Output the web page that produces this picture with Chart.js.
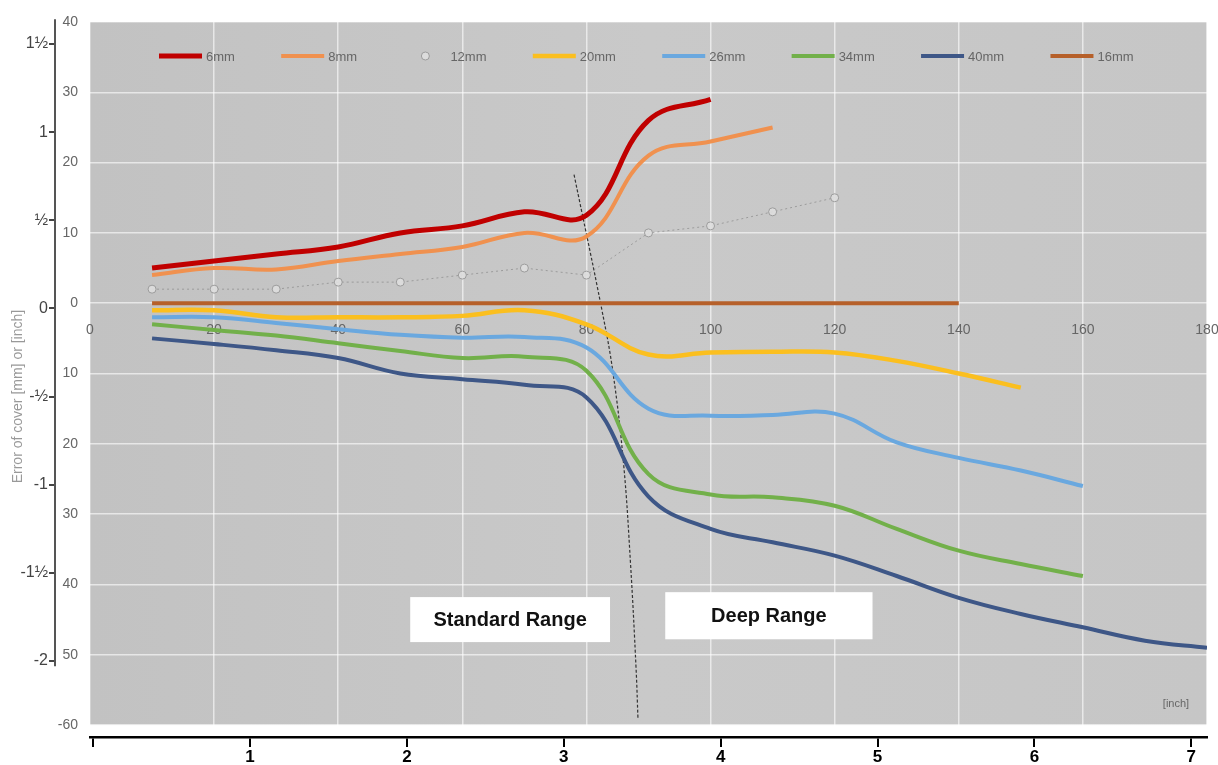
<!DOCTYPE html>
<html>
<head>
<meta charset="utf-8">
<script src="https://cdn.jsdelivr.net/npm/chart.js@4"></script>
<style>
html,body{margin:0;padding:0;background:#fff;}
#wrap{width:1218px;height:765px;position:relative;}
</style>
</head>
<body>
<div id="wrap"><canvas id="c"></canvas></div>
<script>
// ---- data (cover depth in mm on x, error of cover in mm on y) ----
const coverX   = [10,20,30,40,50,60,70,80,90,100,110,120,130,140,150,160,170,180];
const err6mm   = [5,6,7,8,10,11,13,12.5,26,29];
const err8mm   = [4,5,4.8,6,7,8,10,9.5,21,23,25];
const err12mm  = [2,2,2,3,3,4,5,4,10,11,13,15];
const err20mm  = [-1,-1,-2,-2,-2,-1.8,-1,-3,-7.3,-7,-6.9,-7,-8.2,-10,-12];
const err26mm  = [-2,-2,-2.8,-3.7,-4.5,-4.9,-4.8,-6.3,-15,-16,-15.9,-15.7,-19.8,-22,-23.8,-26];
const err34mm  = [-3,-3.8,-4.6,-5.7,-6.8,-7.8,-7.6,-9.6,-24.3,-27.2,-27.6,-28.8,-32.1,-35.2,-37.1,-38.8];
const err40mm  = [-5,-5.8,-6.7,-7.8,-10,-10.8,-11.6,-13.4,-27.5,-32.1,-34,-35.9,-38.8,-41.9,-44.2,-46.1,-48,-49];
const err16mm  = [0,0,0,0,0,0,0,0,0,0,0,0,0,0];
const guideX   = [78,82.5,84.3,86,87.1,88,88.3];
const guideY   = [18.3,-1,-10,-23,-37,-52,-59];
const seriesNames = ['6mm','8mm','12mm','20mm','26mm','34mm','40mm','16mm'];
const mmTickValues   = [40,30,20,10,0,-10,-20,-30,-40,-50,-60];
const mmTickLabels   = ['40','30','20','10','0','10','20','30','40','50','-60'];
const inchTickValues = [1.5,1,0.5,0,-0.5,-1,-1.5,-2];
const inchTickLabels = ['1½','1','½','0','-½','-1','-1½','-2'];
const inchAxisValues = [0,1,2,3,4,5,6,7];
const inchAxisLabels = ['','1','2','3','4','5','6','7'];
const rangeLabels = ['Standard Range','Deep Range'];
const rangeX = [[51.6,83.8],[92.7,126.1]];
const rangeY = [[-41.8,-48.2],[-41.1,-47.8]];
const axisTitle = 'Error of cover [mm] or [inch]';
const unitNote = '[inch]';

const pts = (ys) => ys.map((y,i)=>({x:coverX[i], y}));
const narrow = '"Liberation Sans Narrow","Liberation Sans",Arial,sans-serif';

function lineDs(label, ys, color, w){
  return {label, data:pts(ys), borderColor:color, backgroundColor:color, borderWidth:w,
          pointRadius:0, tension:0.4, fill:false, legendItem:true, xAxisID:'x', yAxisID:'y'};
}

const datasets = [
  lineDs(seriesNames[0], err6mm, '#c00000', 5),
  lineDs(seriesNames[1], err8mm, '#f0914f', 4),
  {label:seriesNames[2], data:pts(err12mm), borderColor:'rgba(140,140,140,0.75)', borderWidth:1,
   borderDash:[2,3], tension:0, pointRadius:4, pointBackgroundColor:'rgba(222,222,222,0.9)',
   pointBorderColor:'rgba(150,150,150,0.9)', pointBorderWidth:1, legendItem:true, marker:true,
   xAxisID:'x', yAxisID:'y'},
  lineDs(seriesNames[3], err20mm, '#fbbf1f', 4.5),
  lineDs(seriesNames[4], err26mm, '#6aa8df', 4),
  lineDs(seriesNames[5], err34mm, '#72b04a', 4),
  lineDs(seriesNames[6], err40mm, '#3e5787', 4),
  lineDs(seriesNames[7], err16mm, '#b6602a', 4),
  {label:'guide', data:guideX.map((x,i)=>({x, y:guideY[i]})), borderColor:'#333', borderWidth:1.2,
   borderDash:[3,2], pointRadius:0, tension:0.4, fill:false, xAxisID:'x', yAxisID:'y'}
];

const bgPlugin = {
  id:'bg',
  beforeDraw(chart){
    const {ctx, chartArea:a, scales} = chart;
    const bottom = scales.y.getPixelForValue(-60);
    ctx.save();
    const g = ctx.createLinearGradient(a.left,0,a.right,0);
    g.addColorStop(0,'#c2c2c2'); g.addColorStop(0.5,'#c9c9c9'); g.addColorStop(1,'#c6c6c6');
    ctx.fillStyle = g;
    ctx.fillRect(a.left, a.top, a.right-a.left, bottom-a.top);
    ctx.restore();
  }
};

const decoPlugin = {
  id:'deco',
  afterDatasetsDraw(chart){
    const {ctx, chartArea:a, scales} = chart;
    const sx = scales.x, sy = scales.y;
    ctx.save();
    // legend inside plot
    ctx.font = '13px ' + narrow;
    ctx.textBaseline = 'middle';
    ctx.textAlign = 'left';
    let lx = a.left + 69;
    const ly = a.top + 34;
    chart.data.datasets.forEach(ds=>{
      if(!ds.legendItem) return;
      if(ds.marker){
        ctx.beginPath(); ctx.arc(lx+22, ly, 4, 0, Math.PI*2);
        ctx.fillStyle = ds.pointBackgroundColor; ctx.fill();
        ctx.lineWidth = 1; ctx.strokeStyle = ds.pointBorderColor; ctx.stroke();
      } else {
        ctx.beginPath(); ctx.moveTo(lx, ly); ctx.lineTo(lx+43, ly);
        ctx.lineWidth = ds.borderWidth; ctx.strokeStyle = ds.borderColor; ctx.lineCap='butt'; ctx.stroke();
      }
      ctx.fillStyle = '#666';
      ctx.fillText(ds.label, lx+47, ly+1);
      lx += 47 + ctx.measureText(ds.label).width + 46.3;
    });
    // range boxes
    rangeLabels.forEach((t,i)=>{
      const x1 = sx.getPixelForValue(rangeX[i][0]), x2 = sx.getPixelForValue(rangeX[i][1]);
      const y1 = sy.getPixelForValue(rangeY[i][0]), y2 = sy.getPixelForValue(rangeY[i][1]);
      ctx.fillStyle = '#ffffff';
      ctx.fillRect(x1, y1, x2-x1, y2-y1);
      ctx.fillStyle = '#111';
      ctx.font = 'bold 20px "Liberation Sans",Arial,sans-serif';
      ctx.textAlign = 'center'; ctx.textBaseline = 'middle';
      ctx.fillText(t, (x1+x2)/2, (y1+y2)/2+1);
    });
    // unit note
    ctx.font = '11px ' + narrow;
    ctx.fillStyle = '#666'; ctx.textAlign='center';
    ctx.fillText(unitNote, sx.getPixelForValue(175), sy.getPixelForValue(-57));
    ctx.restore();
  },
  afterDraw(chart){
    const {ctx, scales} = chart;
    const s2 = scales.y2;
    ctx.save();
    // inch axis line
    ctx.beginPath();
    ctx.moveTo(s2.right, s2.getPixelForValue(1.64));
    ctx.lineTo(s2.right, s2.getPixelForValue(-2.03));
    ctx.lineWidth = 2; ctx.strokeStyle = '#555'; ctx.stroke();
    // title
    ctx.translate(18, s2.getPixelForValue(-0.5));
    ctx.rotate(-Math.PI/2);
    ctx.font = '14px ' + narrow;
    ctx.fillStyle = '#999'; ctx.textAlign='center'; ctx.textBaseline='middle';
    ctx.fillText(axisTitle, 0, 0);
    ctx.restore();
  }
};

const noSidePad = (s)=>{ s.paddingLeft = 0; s.paddingRight = 0; };

new Chart(document.getElementById('c'), {
  type:'line',
  data:{datasets},
  plugins:[bgPlugin, decoPlugin],
  options:{
    responsive:true, maintainAspectRatio:false, animation:false, devicePixelRatio:1,
    layout:{padding:{top:22, right:11, left:0, bottom:0}},
    plugins:{legend:{display:false}, tooltip:{enabled:false}},
    scales:{
      x:{type:'linear', position:{y:0}, min:0, max:180,
         afterFit: noSidePad,
         ticks:{stepSize:20, autoSkip:false, maxRotation:0, padding:19, color:'#666', font:{family:narrow, size:14}},
         grid:{color:'rgba(255,255,255,0.6)', lineWidth:1.5, drawTicks:false},
         border:{display:false}},
      y:{type:'linear', position:'left', weight:0, min:-61.7, max:40,
         afterBuildTicks:(s)=>{ s.ticks = mmTickValues.map(v=>({value:v})); },
         afterFit:(s)=>{ s.width = 35; s.paddingTop = 0; s.paddingBottom = 0; },
         ticks:{callback:(v)=> mmTickLabels[mmTickValues.indexOf(v)], padding:12, color:'#666', font:{family:narrow, size:14}},
         grid:{color:'rgba(255,255,255,0.6)', lineWidth:1.5, drawTicks:false},
         border:{display:false}},
      y2:{type:'linear', position:'left', weight:10, min:-2.431, max:1.6245,
         afterBuildTicks:(s)=>{ s.ticks = inchTickValues.map(v=>({value:v})); },
         afterFit:(s)=>{ s.width = 55; s.paddingTop = 0; s.paddingBottom = 0; },
         ticks:{callback:(v)=> inchTickLabels[inchTickValues.indexOf(v)], padding:1, color:'#444', font:{family:narrow, size:16}},
         grid:{drawOnChartArea:false, drawTicks:true, tickLength:6, color:'#444', lineWidth:2},
         border:{display:false}},
      x2:{type:'linear', position:'bottom', min:-0.02, max:7.1,
         afterBuildTicks:(s)=>{ s.ticks = inchAxisValues.map(v=>({value:v})); },
         afterFit:(s)=>{ s.height = 28; s.paddingLeft = 0; s.paddingRight = 0; },
         ticks:{callback:(v)=> inchAxisLabels[inchAxisValues.indexOf(v)], autoSkip:false, maxRotation:0, padding:0, color:'#000', font:{family:'"Liberation Sans",Arial,sans-serif', size:17, weight:'bold'}},
         grid:{drawOnChartArea:false, drawTicks:true, tickLength:10, color:'#000', lineWidth:2},
         border:{display:true, color:'#000', width:2.5}}
    }
  }
});
</script>
</body>
</html>
